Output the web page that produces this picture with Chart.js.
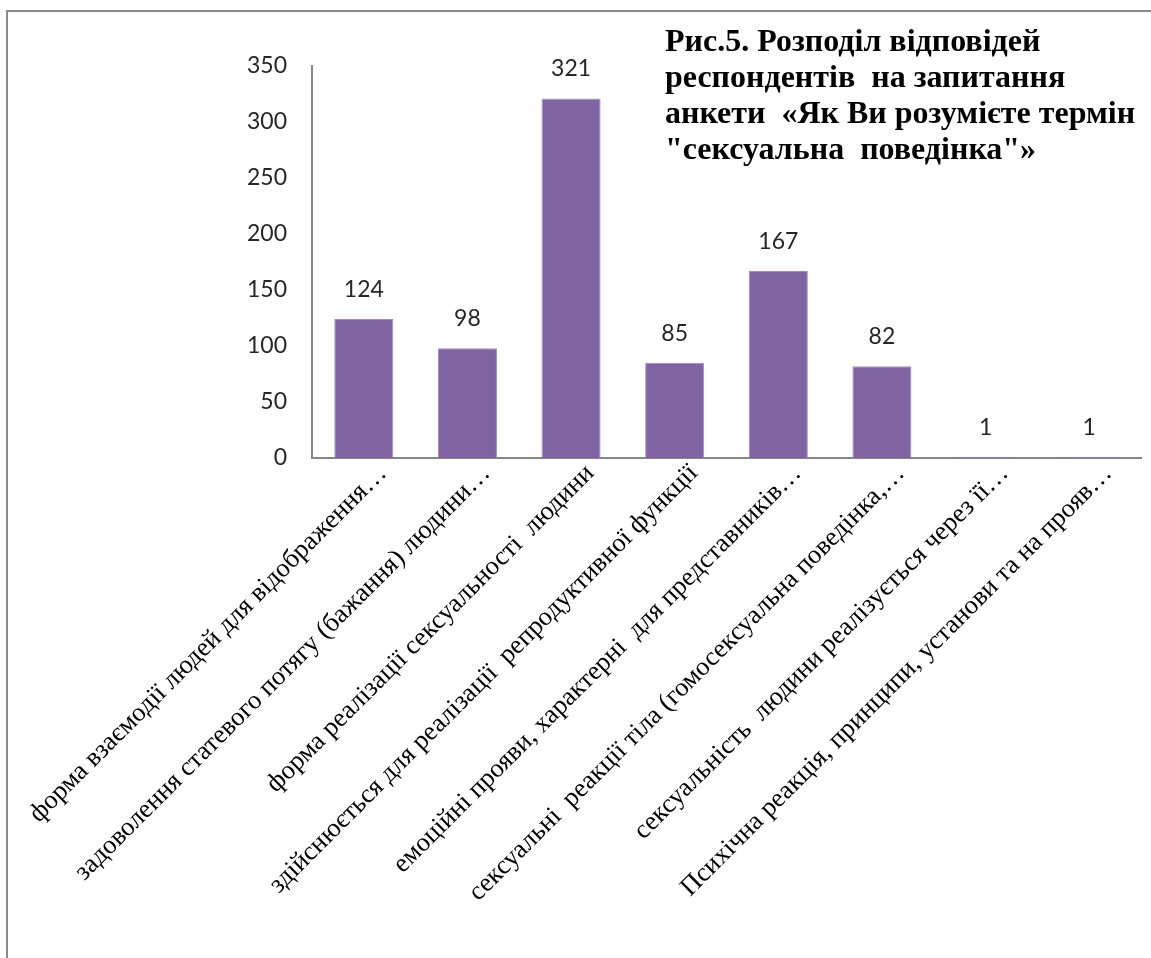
<!DOCTYPE html>
<html lang="uk">
<head>
<meta charset="utf-8">
<title>Рис.5</title>
<script src="https://cdn.jsdelivr.net/npm/chart.js@4.4.1/dist/chart.umd.min.js"></script>
<style>
  html, body { margin: 0; padding: 0; background: #fff; overflow: hidden; }
  #wrap { position: relative; width: 1151px; height: 958px; }
  #frame {
    position: absolute; left: 6px; top: 10px; width: 1200px; height: 1000px;
    border-left: 2px solid #8a8a8a; border-top: 2px solid #8a8a8a;
  }
  #chartTitle {
    position: absolute; left: 665px; top: 22px;
    font-family: "Liberation Serif", "Times New Roman", serif;
    font-weight: bold; font-size: 32px; line-height: 36px; color: #000;
    white-space: pre;
  }
  canvas { position: absolute; left: 0; top: 0; }
</style>
</head>
<body>
<div id="wrap">
  <div id="frame"></div>
  <canvas id="barChart" width="1151" height="958"></canvas>
  <div id="chartTitle">Рис.5. Розподіл відповідей
респондентів  на запитання
анкети  «Як Ви розумієте термін
"сексуальна  поведінка"»</div>
</div>
<script>
// ---------- Data ----------
const categories = [
  "форма взаємодії людей для відображення…",
  "задоволення статевого потягу (бажання) людини…",
  "форма реалізації сексуальності  людини",
  "здійснюється для реалізації  репродуктивної функції",
  "емоційні прояви, характерні  для представників…",
  "сексуальні  реакції тіла (гомосексуальна поведінка,…",
  "сексуальність  людини реалізується через її…",
  "Психічна реакція, принципи, установи та на прояв…"
];
const responses = [124, 98, 321, 85, 167, 82, 1, 1];
const yTicks = [0, 50, 100, 150, 200, 250, 300, 350];

// ---------- Value labels above bars ----------
const valueLabels = {
  id: "valueLabels",
  afterDatasetsDraw(chart) {
    const ctx = chart.ctx;
    const meta = chart.getDatasetMeta(0);
    ctx.save();
    ctx.font = "23px Lato";
    ctx.fillStyle = "#262626";
    ctx.textAlign = "center";
    ctx.textBaseline = "bottom";
    meta.data.forEach((bar, i) => {
      ctx.fillText(String(responses[i]), bar.x, bar.y - 18);
    });
    ctx.restore();
  }
};

// ---------- Chart ----------
const ctx = document.getElementById("barChart").getContext("2d");
new Chart(ctx, {
  type: "bar",
  data: {
    labels: categories,
    datasets: [{
      data: responses,
      backgroundColor: "#8064A2",
      borderColor: "#a08cc0",
      borderWidth: 1,
      categoryPercentage: 1,
      barPercentage: 0.57
    }]
  },
  options: {
    responsive: false,
    animation: false,
    layout: { padding: { top: 66, right: 10, bottom: 0, left: 0 } },
    plugins: {
      legend: { display: false },
      title: { display: false },
      tooltip: { enabled: false }
    },
    scales: {
      x: {
        grid: { display: false, drawTicks: false },
        border: { display: true, color: "#868686", width: 2 },
        ticks: {
          autoSkip: false,
          minRotation: 45,
          maxRotation: 45,
          padding: 0,
          labelOffset: 19,
          color: "#000",
          font: { family: "Liberation Serif", size: 26.5 }
        },
        // long rotated labels must not push the plot area to the right
        afterFit(scale) {
          scale.height = 500;
          scale.paddingLeft = 0;
          scale.paddingRight = 0;
        }
      },
      y: {
        min: 0,
        max: 350,
        afterBuildTicks(scale) { scale.ticks = yTicks.map(v => ({ value: v })); },
        grid: { display: false, drawTicks: false },
        border: { display: true, color: "#868686", width: 2 },
        ticks: {
          padding: 25,
          color: "#262626",
          font: { family: "Lato", size: 23 }
        },
        afterFit(scale) { scale.width = 312; }
      }
    }
  },
  plugins: [valueLabels]
});
</script>
</body>
</html>
